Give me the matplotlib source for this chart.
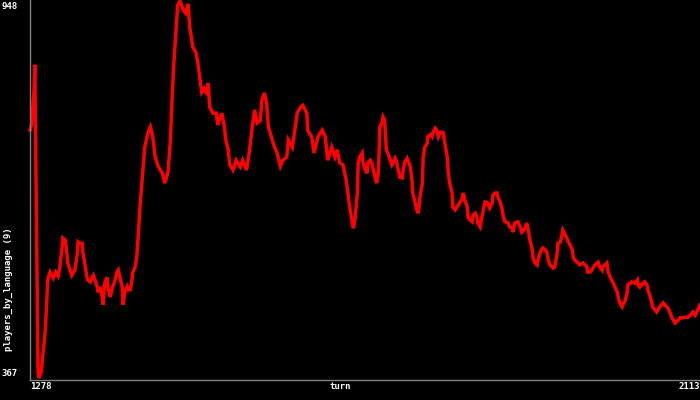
import matplotlib
matplotlib.use("Agg")
import matplotlib.pyplot as plt

turns = [1278, 1280, 1283, 1284, 1285, 1287, 1288, 1289, 1292, 1294, 1297, 1299, 1300, 1303, 1307, 1310,
         1313, 1315, 1318, 1319, 1322, 1324, 1325, 1328, 1330, 1332, 1334, 1337, 1338, 1340, 1343, 1344,
         1347, 1349, 1350, 1353, 1355, 1357, 1359, 1362, 1363, 1365, 1368, 1369, 1371, 1374, 1375, 1378,
         1380, 1381, 1384, 1386, 1388, 1390, 1393, 1394, 1396, 1399, 1400, 1403, 1405, 1406, 1409, 1411,
         1413, 1415, 1418, 1421, 1425, 1428, 1431, 1434, 1438, 1443, 1446, 1450, 1453, 1455, 1457, 1460,
         1462, 1465, 1469, 1472, 1475, 1477, 1481, 1485, 1487, 1490, 1492, 1495, 1499, 1500, 1502, 1506,
         1510, 1512, 1517, 1520, 1522, 1525, 1527, 1531, 1535, 1540, 1543, 1548, 1552, 1555, 1558, 1561,
         1565, 1567, 1570, 1573, 1575, 1580, 1582, 1586, 1590, 1593, 1598, 1600, 1605, 1608, 1611, 1615,
         1618, 1623, 1624, 1629, 1632, 1637, 1642, 1646, 1649, 1654, 1658, 1661, 1664, 1668, 1672, 1677,
         1681, 1683, 1686, 1687, 1689, 1692, 1693, 1696, 1698, 1699, 1702, 1704, 1705, 1708, 1710, 1712,
         1713, 1714, 1717, 1718, 1720, 1722, 1724, 1727, 1729, 1733, 1735, 1737, 1739, 1742, 1743, 1745,
         1748, 1749, 1752, 1754, 1755, 1758, 1760, 1762, 1764, 1767, 1768, 1770, 1773, 1774, 1777, 1779,
         1780, 1783, 1785, 1787, 1789, 1791, 1793, 1795, 1798, 1799, 1801, 1804, 1805, 1808, 1810, 1814,
         1816, 1818, 1820, 1823, 1824, 1826, 1829, 1830, 1833, 1835, 1836, 1839, 1841, 1843, 1845, 1848,
         1851, 1854, 1855, 1858, 1860, 1861, 1864, 1866, 1868, 1870, 1874, 1876, 1879, 1880, 1882, 1886,
         1889, 1891, 1895, 1897, 1899, 1901, 1904, 1905, 1907, 1910, 1911, 1914, 1917, 1920, 1922, 1924,
         1926, 1930, 1932, 1935, 1936, 1939, 1941, 1942, 1945, 1947, 1951, 1954, 1955, 1957, 1961, 1963,
         1967, 1970, 1972, 1973, 1976, 1978, 1982, 1986, 1988, 1991, 1992, 1997, 1998, 2001, 2005, 2007,
         2010, 2011, 2013, 2016, 2017, 2020, 2022, 2023, 2028, 2032, 2035, 2036, 2038, 2042, 2044, 2047,
         2048, 2051, 2053, 2054, 2057, 2059, 2063, 2067, 2069, 2073, 2076, 2078, 2082, 2084, 2088, 2092,
         2094, 2098, 2101, 2104, 2107, 2109, 2112, 2113]

players = [749, 757, 810, 849, 734, 489, 382, 370, 379, 405, 443, 489, 520, 532, 523, 532,
           526, 538, 570, 584, 581, 561, 546, 535, 527, 531, 535, 561, 578, 576, 576, 561,
           540, 524, 520, 517, 523, 527, 520, 509, 501, 509, 494, 482, 515, 524, 509, 494,
           505, 509, 520, 531, 535, 524, 509, 482, 500, 509, 505, 505, 520, 531, 540, 555,
           589, 631, 677, 723, 745, 754, 739, 708, 693, 683, 668, 685, 734, 795, 846, 902,
           940, 946, 933, 928, 942, 907, 876, 867, 853, 826, 807, 813, 803, 821, 784, 775,
           775, 757, 775, 757, 734, 719, 696, 688, 703, 693, 703, 688, 722, 754, 780, 760,
           764, 795, 806, 790, 754, 734, 726, 714, 694, 703, 708, 734, 723, 749, 775, 784,
           787, 775, 749, 739, 714, 739, 749, 739, 703, 723, 708, 719, 699, 696, 673, 627,
           599, 612, 653, 699, 708, 714, 699, 688, 683, 699, 703, 699, 693, 677, 668, 683,
           714, 754, 761, 769, 764, 719, 714, 703, 696, 706, 700, 688, 677, 676, 688, 700,
           706, 703, 693, 673, 653, 638, 627, 622, 647, 668, 708, 723, 729, 739, 742, 739,
           745, 752, 749, 739, 745, 746, 745, 729, 708, 688, 668, 653, 631, 627, 631, 639,
           642, 653, 642, 631, 616, 612, 609, 619, 622, 616, 607, 601, 615, 627, 639, 638,
           630, 638, 650, 653, 653, 647, 639, 631, 616, 609, 607, 601, 599, 593, 607, 609,
           601, 593, 599, 607, 596, 581, 566, 553, 547, 543, 550, 563, 569, 566, 563, 550,
           543, 538, 540, 561, 576, 578, 589, 596, 589, 584, 573, 566, 555, 550, 546, 543,
           546, 543, 540, 532, 532, 535, 543, 547, 540, 535, 540, 546, 535, 524, 515, 509,
           501, 494, 485, 479, 482, 489, 500, 512, 517, 515, 520, 512, 509, 515, 517, 512,
           505, 494, 485, 479, 474, 471, 479, 485, 482, 477, 469, 462, 454, 456, 462, 462,
           463, 463, 466, 471, 466, 471, 479, 482]

x_min, x_max = 1278, 2113
y_min, y_max = 367, 948
x_label = "turn"
y_label = "players_by_language (9)"

W, H = 700, 400
fig = plt.figure(figsize=(W / 100, H / 100), dpi=100, facecolor="black")
ax = fig.add_axes([30 / W, 20 / H, 670 / W, 380 / H], facecolor="black")
ax.plot(turns, players, color="#ff0000", lw=2.5, solid_joinstyle="miter", clip_on=False)
ax.set_xlim(x_min, x_max)
ax.set_ylim(y_min, y_max)
ax.set_xticks([])
ax.set_yticks([])
for s in ("top", "right"):
    ax.spines[s].set_visible(False)
for s in ("left", "bottom"):
    ax.spines[s].set_color("#808080")
    ax.spines[s].set_linewidth(1.0)

font = dict(family="DejaVu Sans Mono", fontsize=6.5, color="white", fontweight="bold")


def px(x, y):
    return x / W, 1 - y / H


fig.text(*px(1, 2), str(y_max), ha="left", va="top", **font)
fig.text(*px(1, 378), str(y_min), ha="left", va="bottom", **font)
fig.text(*px(30, 382), str(x_min), ha="left", va="top", **font)
fig.text(*px(700, 382), str(x_max), ha="right", va="top", **font)
fig.text(*px(329, 382), x_label, ha="left", va="top", **font)
fig.text(*px(4, 351), y_label, ha="left", va="bottom", rotation=90, **font)

fig.savefig("out.png", dpi=100, facecolor="black")
